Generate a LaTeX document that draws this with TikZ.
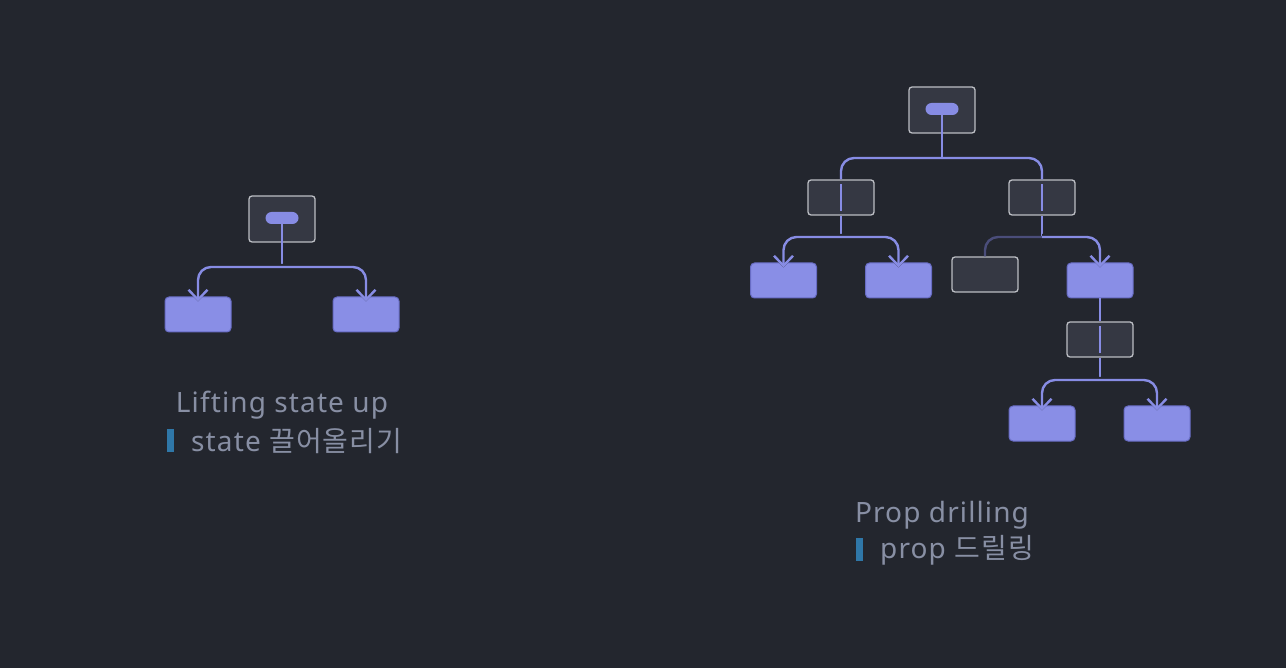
\documentclass[tikz,border=0pt]{standalone}
\usepackage{fontspec}
\setmainfont[LetterSpace=4]{Noto Sans}
\newfontfamily\krfont[LetterSpace=4]{Noto Sans CJK KR}
\usepackage{tikz}
\usetikzlibrary{arrows.meta, positioning}
\definecolor{bg}{RGB}{35,38,46}
\definecolor{boxfill}{RGB}{53,56,67}
\definecolor{boxedge}{RGB}{188,190,196}
\definecolor{leaffill}{RGB}{137,142,230}
\definecolor{leafedge}{RGB}{104,108,196}
\definecolor{flowc}{RGB}{135,140,228}
\definecolor{fadec}{RGB}{74,77,122}
\definecolor{captionc}{RGB}{136,143,164}
\definecolor{tagc}{RGB}{47,119,168}

\tikzset{
  holder/.style={draw=boxedge, fill=boxfill, line width=1.3pt, rounded corners=3pt,
    minimum width=66pt, minimum height=46pt, inner sep=0pt},
  passbox/.style={holder, minimum height=35pt},
  leafbox/.style={draw=leafedge, fill=leaffill, line width=1pt, rounded corners=4pt,
    minimum width=66pt, minimum height=35pt, inner sep=0pt},
  statepill/.style={fill=flowc, rounded corners=6pt, minimum width=33pt,
    minimum height=12pt, inner sep=0pt},
  flow/.style={draw=flowc, line width=2.4pt},
  branch/.style={flow, rounded corners=13pt, shorten >=-5pt,
    -{Straight Barb[length=10pt, width=19pt]},
    preaction={draw=bg, line width=6pt, -{Straight Barb[length=10pt, width=19pt]}}},
  caption/.style={text=captionc, font=\fontsize{28}{33}\selectfont, inner sep=0pt},
  tagbar/.style={fill=tagc, minimum width=7pt, minimum height=23pt, inner sep=0pt},
}

\begin{document}
\begin{tikzpicture}[x=1pt, y=-1pt]
  \fill[bg] (0,0) rectangle (1286,668);
  \useasboundingbox (0,0) rectangle (1286,668);

  % Lifting state up
  \node[holder] (lroot) at (282,219) {};
  \node[statepill] (lpill) at (282,218) {};
  \coordinate (lj) at (282,267);
  \node[leafbox] (lleafa) at (198,314.5) {};
  \node[leafbox] (lleafb) at (366,314.5) {};
  \draw[flow] (lpill.center) -- (lj);
  \draw[branch] (lj) -| (lleafa.north);
  \draw[branch] (lj) -| (lleafb.north);

  \node[caption, anchor=base] (ltitle) at (282,413) {Lifting state up};
  \node[tagbar] (lbar) at (170.5,440) {};
  \node[caption, anchor=base west] (lsub) at (191,451) {state {\krfont 끌어올리기}};

  % Prop drilling
  \node[holder] (rroot) at (942,110) {};
  \node[statepill] (rpill) at (942,109) {};
  \coordinate (rj) at (942,158);
  \node[passbox] (rmida) at (841,197.5) {};
  \node[passbox] (rmidb) at (1042,197.5) {};
  \coordinate (rja) at (841,237);
  \coordinate (rjb) at (1042,237);
  \node[leafbox] (rleafa) at (783.5,280.5) {};
  \node[leafbox] (rleafb) at (898.5,280.5) {};
  \node[passbox] (rskip) at (985,274.5) {};
  \node[leafbox] (rleafc) at (1100,280.5) {};
  \node[passbox] (rmidc) at (1100,339.5) {};
  \coordinate (rjc) at (1100,380);
  \node[leafbox] (rleafd) at (1042,423.5) {};
  \node[leafbox] (rleafe) at (1157,423.5) {};

  \draw[flow] (rpill.center) -- (rj);
  \draw[flow, rounded corners=13pt] (rj) -| (rmida.north);
  \draw[flow, rounded corners=13pt] (rj) -| (rmidb.north);
  \draw[flow] ([yshift=-5pt]rmida.north) -- ([yshift=5pt]rmida.south);
  \draw[flow] ([yshift=-5pt]rmidb.north) -- ([yshift=5pt]rmidb.south);
  \draw[flow] (rmida.south) -- (rja);
  \draw[flow] (rmidb.south) -- (rjb);
  \draw[branch] (rja) -| (rleafa.north);
  \draw[branch] (rja) -| (rleafb.north);
  \draw[draw=fadec, line width=2.4pt, rounded corners=13pt] (rjb) -| (rskip.north);
  \draw[branch] (rjb) -| (rleafc.north);
  \draw[flow] (rleafc.south) -- (rmidc.north);
  \draw[flow] ([yshift=-5pt]rmidc.north) -- ([yshift=5pt]rmidc.south);
  \draw[flow] (rmidc.south) -- (rjc);
  \draw[branch] (rjc) -| (rleafd.north);
  \draw[branch] (rjc) -| (rleafe.north);

  \node[caption, anchor=base] (rtitle) at (942,522) {Prop drilling};
  \node[tagbar] (rbar) at (859.5,549) {};
  \node[caption, anchor=base west] (rsub) at (880,558) {prop {\krfont 드릴링}};
\end{tikzpicture}
\end{document}
